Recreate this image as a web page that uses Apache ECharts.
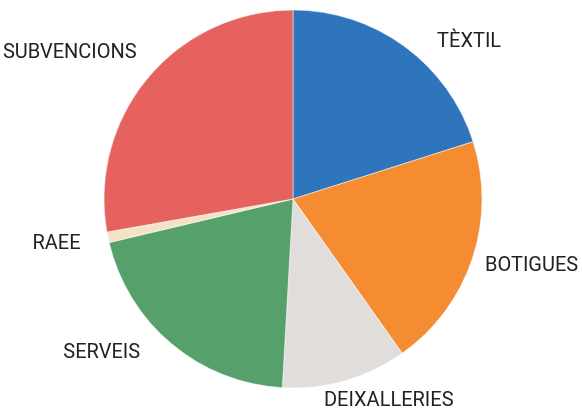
<!DOCTYPE html>
<html>
<head>
<meta charset="utf-8">
<script src="https://cdn.jsdelivr.net/npm/echarts@6/dist/echarts.min.js"></script>
<style>
html,body{margin:0;padding:0;background:#fff;}
#chart{width:582px;height:408px;}
</style>
</head>
<body>
<div id="chart"></div>
<script>
// Data (percent shares)
var categories = ['TÈXTIL', 'BOTIGUES', 'DEIXALLERIES', 'SERVEIS', 'RAEE', 'SUBVENCIONS'];
var values = [20.1, 20.1, 10.7, 20.4, 0.9, 27.8];

// Styling (kept separate from data)
var colors = ['#2E75BB', '#F58C32', '#E1DDDA', '#55A06B', '#F4E2C7', '#E5625E'];
var labelLen = [6, 23, 21, 12.5, 31, 38];
var labelLen2 = [29, -9, -27, 23.5, -3, -17.7];

var seriesData = categories.map(function (name, i) {
  return {
    name: name,
    value: values[i],
    itemStyle: { color: colors[i] },
    labelLine: { show: false, length: labelLen[i], length2: labelLen2[i] }
  };
});

var chart = echarts.init(document.getElementById('chart'), null, { renderer: 'canvas' });
chart.setOption({
  animation: false,
  backgroundColor: '#ffffff',
  series: [{
    type: 'pie',
    center: [293, 199],
    radius: 189,
    startAngle: 90,
    clockwise: true,
    avoidLabelOverlap: false,
    itemStyle: { borderColor: '#ffffff', borderWidth: 0.5 },
    label: {
      show: true,
      position: 'outside',
      distanceToLabelLine: 0,
      formatter: '{b}',
      color: '#222222',
      fontSize: 20,
      fontFamily: 'Roboto, sans-serif',
      overflow: 'none'
    },
    labelLine: { show: false },
    emphasis: { disabled: true },
    data: seriesData
  }]
});
</script>
</body>
</html>
